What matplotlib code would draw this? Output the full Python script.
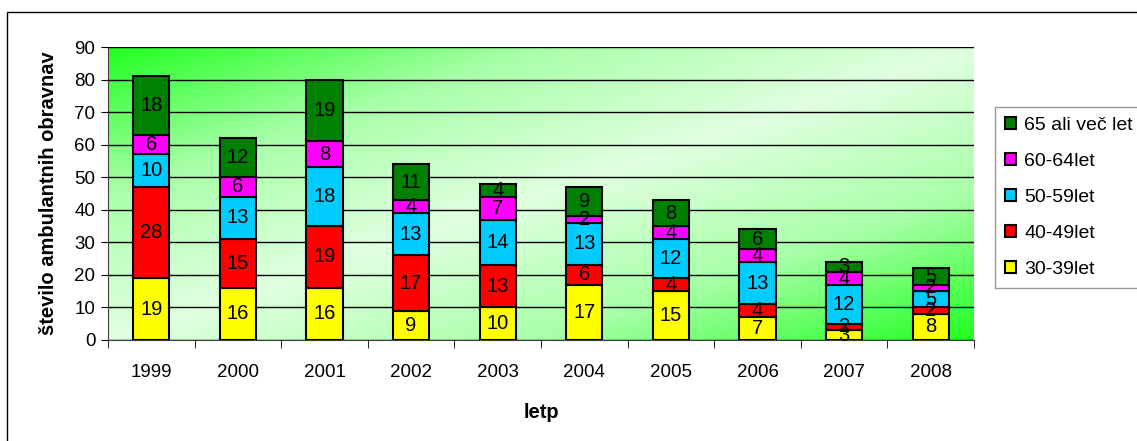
import numpy as np
import matplotlib.pyplot as plt
from matplotlib.patches import Rectangle
from matplotlib.colors import LinearSegmentedColormap

plt.rcParams['font.family'] = ['Liberation Sans', 'DejaVu Sans']

years = ['1999', '2000', '2001', '2002', '2003', '2004', '2005', '2006', '2007', '2008']
groups = ['30-39let', '40-49let', '50-59let', '60-64let', '65 ali več let']
colours = ['#ffff00', '#ff0000', '#00ccff', '#ff00ff', '#008000']

a30_39 = [19, 16, 16, 9, 10, 17, 15, 7, 3, 8]
a40_49 = [28, 15, 19, 17, 13, 6, 4, 4, 2, 2]
a50_59 = [10, 13, 18, 13, 14, 13, 12, 13, 12, 5]
a60_64 = [6, 6, 8, 4, 7, 2, 4, 4, 4, 2]
a65 = [18, 12, 19, 11, 4, 9, 8, 6, 3, 5]
series = [a30_39, a40_49, a50_59, a60_64, a65]

fig = plt.figure(figsize=(11.37, 4.41), dpi=100)
ax = fig.add_axes([108/1137, 1-340/441, (974-108)/1137, (340-47)/441])

# frame round the whole chart
fig.patches.append(Rectangle((7/1137, -0.1), 1.2, 1-12/441+0.1, transform=fig.transFigure,
                             fill=False, edgecolor='black', lw=1.0))

# diagonal green background
n = len(years)
u, v = np.meshgrid(np.linspace(0, 1, 300), np.linspace(0, 1, 120))
t = np.abs((u + v) / 2 - 0.5) * 2
cmap = LinearSegmentedColormap.from_list('gr', ['#e0ffe0', '#a8ffa8', '#22ff22'])
ax.imshow(t, cmap=cmap, extent=(-0.5, n-0.5, 0, 90), origin='upper', aspect='auto', zorder=0)

x = np.arange(n)
bottom = np.zeros(n)
handles = []
for vals, col, lab in zip(series, colours, groups):
    bars = ax.bar(x, vals, 0.42, bottom=bottom, color=col, edgecolor='black', lw=1.5,
                  label=lab, zorder=3)
    ax.bar_label(bars, labels=[str(v) for v in vals], label_type='center', fontsize=14.5, zorder=4)
    bottom += np.array(vals)
    handles.append(bars)

ax.set_xlim(-0.5, n-0.5)
ax.set_ylim(0, 90)
ax.set_yticks(range(0, 91, 10))
ax.yaxis.grid(True, color='black', lw=1.0)
ax.set_axisbelow(False)
for gl in ax.get_ygridlines():
    gl.set_zorder(1)
ax.set_xticks(x)
ax.set_xticklabels(years, fontsize=13.5)
ax.set_xticks(np.arange(-0.5, n, 1), minor=True)
ax.tick_params(axis='x', which='major', length=0, pad=17)
ax.tick_params(axis='x', which='minor', length=6, direction='out')
ax.tick_params(axis='y', labelsize=13.5, length=5, direction='out', pad=4)
for s in ['top', 'right']:
    ax.spines[s].set_visible(False)
ax.spines['left'].set_color('#404040')
ax.spines['bottom'].set_color('#404040')

ax.set_ylabel('število ambulantnih obravnav', fontsize=14.5, fontweight='bold', labelpad=12)
ax.set_xlabel('letp', fontsize=14.5, fontweight='bold', labelpad=16)

leg = fig.legend(handles[::-1], groups[::-1], loc='upper left',
                 bbox_to_anchor=(995/1137, 1-107/441), fontsize=14, frameon=True,
                 fancybox=False, edgecolor='#808080', handlelength=0.6, handleheight=0.6,
                 labelspacing=0.98, borderpad=0.5, handletextpad=0.4, borderaxespad=0)
leg.get_frame().set_linewidth(1.0)

plt.savefig('out.png', dpi=100)
